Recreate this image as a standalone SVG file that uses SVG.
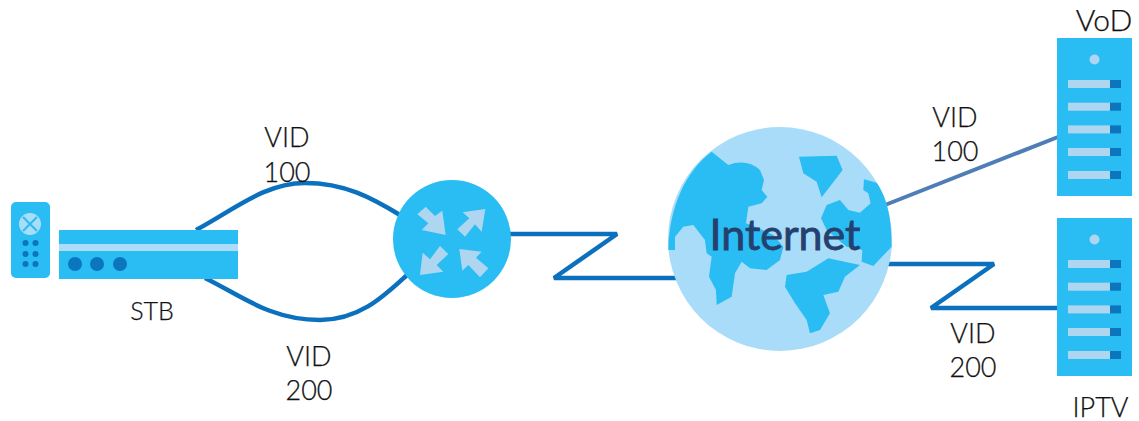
<svg xmlns="http://www.w3.org/2000/svg" width="1139" height="421" viewBox="0 0 1139 421">
<style>
.t{font-family:Lato,"Liberation Sans",sans-serif;font-size:27px;font-weight:300;fill:#111;stroke:#111;stroke-width:.25;text-anchor:middle}
.c{fill:none;stroke:#0b70bd;stroke-width:4.500;stroke-linejoin:bevel}
.b{fill:#29bdf3}
.l{fill:#a9dcf8}
.d{fill:#0b75bd}
.s{fill:#aed6f1}
</style>
<defs>
<g id="srv">
<rect class="b" x="0" y="0" width="75" height="158"/>
<circle class="s" cx="37.500" cy="21.500" r="5"/>
<g id="r"><rect class="s" x="11" y="42" width="42" height="8"/><rect class="d" x="53" y="42" width="11" height="8"/></g>
<use href="#r" y="22.700"/><use href="#r" y="45.400"/><use href="#r" y="68"/><use href="#r" y="91"/>
</g>
</defs>
<rect width="1139" height="421" fill="#fff"/>
<g id="connectors">
<path class="c" d="M196 230C235 209 265 183 305 183C345 183 372 198 400 215"/>
<path class="c" d="M205 278C240 295 270 320 320 320C360 320 385 295 407 275"/>
<path class="c" d="M510 234H617L554 278H676"/>
<path d="M885 205L1058 137" fill="none" stroke="#4f7db5" stroke-width="4"/>
<path class="c" d="M888 264H994L931 308H1058"/>
</g>
<g id="stb">
<rect class="b" x="11" y="202" width="39" height="76" rx="5"/>
<circle class="l" cx="30" cy="224" r="11"/>
<path d="M23 217L37 231M37 217L23 231" stroke="#29bdf3" stroke-width="2"/>
<g class="d"><circle cx="25.500" cy="243" r="3"/><circle cx="35.500" cy="243" r="3"/><circle cx="25.500" cy="254" r="3"/><circle cx="35.500" cy="254" r="3"/><circle cx="25.500" cy="264" r="3"/><circle cx="35.500" cy="264" r="3"/></g>
<rect class="b" x="59" y="230" width="179" height="49"/>
<rect x="59" y="244" width="179" height="7" fill="#aedcf8"/>
<g class="d"><circle cx="75" cy="264" r="7"/><circle cx="97" cy="264" r="7"/><circle cx="120" cy="264" r="7"/></g>
<text class="t" x="152" y="320" style="font-size:25px">STB</text>
</g>
<g id="router">
<circle class="b" cx="452" cy="239" r="59"/>
<g class="s" transform="translate(380 180) scale(.3333)">
<path d="M112 103L137 80L165 108L187 92L197 165L125 150L145 130Z"/>
<path d="M316 87L305 155L285 133L255 170L232 148L268 115L248 97Z"/>
<path d="M120 285L128 218L150 238L180 198L205 222L170 255L190 275Z"/>
<path d="M238 207L305 215L288 233L325 265L300 292L265 255L247 272Z"/>
</g>
</g>
<g id="internet">
<circle class="l" cx="780" cy="239" r="112"/>
<g class="b" transform="translate(660 140) scale(.3333)">
<path d="M25 330C27 200 80 90 155 35L205 75Q260 55 300 90L312 120L305 150L322 170L305 190L265 200L258 250L290 262L340 285L370 320L360 360L320 390L270 385L245 365L225 400L215 470L170 495L168 450L147 410L155 350L140 340L135 300L100 255L70 260L45 290L45 330Z"/>
<path d="M417 50L530 47L548 90L525 120L485 172L470 125L430 100Z"/>
<path d="M612 118L650 128C675 165 695 215 695 320L640 378L605 365L607 330L560 320L500 270L483 235L500 195L540 180L565 210L600 218L632 190L625 160L610 150Z"/>
<path d="M505 355L600 375L555 410L535 455L490 465L510 520L480 570L450 580L440 540L405 490L375 440L380 405L440 395Z"/>
</g>
<text x="785" y="250" text-anchor="middle" style="font-family:Lato,'Liberation Sans',sans-serif;font-size:43px;font-weight:400;fill:#24406f;stroke:#24406f;stroke-width:.8">Internet</text>
</g>
<g id="vod"><use href="#srv" x="1057" y="38"/><text class="t" x="1104" y="31" style="font-size:30px">VoD</text></g>
<g id="iptv"><use href="#srv" x="1057" y="218"/><text class="t" x="1100.500" y="417">IPTV</text></g>
<g id="labels">
<text class="t" x="287" y="147">VID</text><text class="t" x="287" y="182">100</text>
<text class="t" x="309" y="366">VID</text><text class="t" x="309" y="400">200</text>
<text class="t" x="955" y="127">VID</text><text class="t" x="955" y="161">100</text>
<text class="t" x="973" y="343">VID</text><text class="t" x="973" y="377">200</text>
</g>
</svg>
